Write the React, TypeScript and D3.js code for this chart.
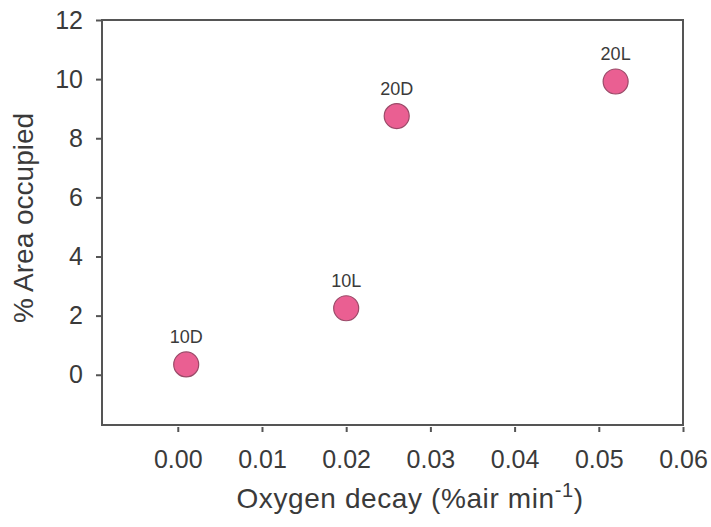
import React, { useRef, useEffect } from 'react';
import * as d3 from 'd3';

const labels = ['10D', '10L', '20D', '20L'];
const oxygenDecay = [0.001, 0.02, 0.026, 0.052];
const areaOccupied = [0.35, 2.25, 8.75, 9.92];
const xTicks = [0, 0.01, 0.02, 0.03, 0.04, 0.05, 0.06];
const yTicks = [0, 2, 4, 6, 8, 10, 12];

export default function App() {
  const svgRef = useRef<SVGSVGElement>(null);
  const width = 711;
  const height = 527;
  const margin = { top: 20, right: 28, bottom: 102, left: 102 };

  useEffect(() => {
    const svg = d3.select(svgRef.current);
    svg.selectAll('*').remove();

    const x = d3.scaleLinear()
      .domain([-0.009, 0.06])
      .range([margin.left, width - margin.right]);
    const y = d3.scaleLinear()
      .domain([-1.7, 12])
      .range([height - margin.bottom, margin.top]);

    const font = 'Arial, "Liberation Sans", sans-serif';
    const axisColor = '#555';
    const textColor = '#3a3a3a';

    // frame
    svg.append('rect')
      .attr('x', margin.left)
      .attr('y', margin.top)
      .attr('width', width - margin.left - margin.right)
      .attr('height', height - margin.top - margin.bottom)
      .attr('fill', 'none')
      .attr('stroke', axisColor)
      .attr('stroke-width', 2);

    const xAxis = d3.axisBottom(x)
      .tickValues(xTicks)
      .tickSize(5)
      .tickPadding(18)
      .tickFormat(d3.format('.2f'));
    const gx = svg.append('g')
      .attr('transform', `translate(0,${height - margin.bottom + 2})`)
      .call(xAxis);
    gx.select('.domain').remove();
    gx.selectAll('line').attr('stroke', axisColor).attr('stroke-width', 2);
    gx.selectAll('text')
      .attr('fill', textColor)
      .style('font-family', font)
      .style('font-size', '25px');

    const yAxis = d3.axisLeft(y)
      .tickValues(yTicks)
      .tickSize(5)
      .tickPadding(13)
      .tickFormat(d3.format('d'));
    const gy = svg.append('g')
      .attr('transform', `translate(${margin.left - 1},0)`)
      .call(yAxis);
    gy.select('.domain').remove();
    gy.selectAll('line').attr('stroke', axisColor).attr('stroke-width', 2);
    gy.selectAll('text')
      .attr('fill', textColor)
      .style('font-family', font)
      .style('font-size', '25px');

    // titles
    const xt = svg.append('text')
      .attr('x', 410)
      .attr('y', 508)
      .attr('text-anchor', 'middle')
      .attr('fill', textColor)
      .style('font-family', font)
      .style('font-size', '28px')
      .style('letter-spacing', '0.6px');
    xt.append('tspan').text('Oxygen decay (%air min');
    xt.append('tspan').attr('dy', -11).style('font-size', '20px').text('-1');
    xt.append('tspan').attr('dy', 11).text(')');

    svg.append('text')
      .attr('transform', `translate(33,${218}) rotate(-90)`)
      .attr('text-anchor', 'middle')
      .attr('fill', textColor)
      .style('font-family', font)
      .style('font-size', '28px')
      .text('% Area occupied');

    const pts = labels.map((l, i) => ({ l, xv: oxygenDecay[i], yv: areaOccupied[i] }));

    svg.selectAll('circle.pt')
      .data(pts)
      .join('circle')
      .attr('class', 'pt')
      .attr('cx', d => x(d.xv))
      .attr('cy', d => y(d.yv))
      .attr('r', 12.5)
      .attr('fill', '#ea5f92')
      .attr('stroke', '#9a4a68')
      .attr('stroke-width', 1.2);

    svg.selectAll('text.lbl')
      .data(pts)
      .join('text')
      .attr('class', 'lbl')
      .attr('x', d => x(d.xv))
      .attr('y', d => y(d.yv) - 21)
      .attr('text-anchor', 'middle')
      .attr('fill', textColor)
      .style('font-family', font)
      .style('font-size', '18px')
      .text(d => d.l);
  }, []);

  return (
    <svg
      ref={svgRef}
      width={width}
      height={height}
      style={{ position: 'absolute', left: 0, top: 0, background: '#fff' }}
    />
  );
}
